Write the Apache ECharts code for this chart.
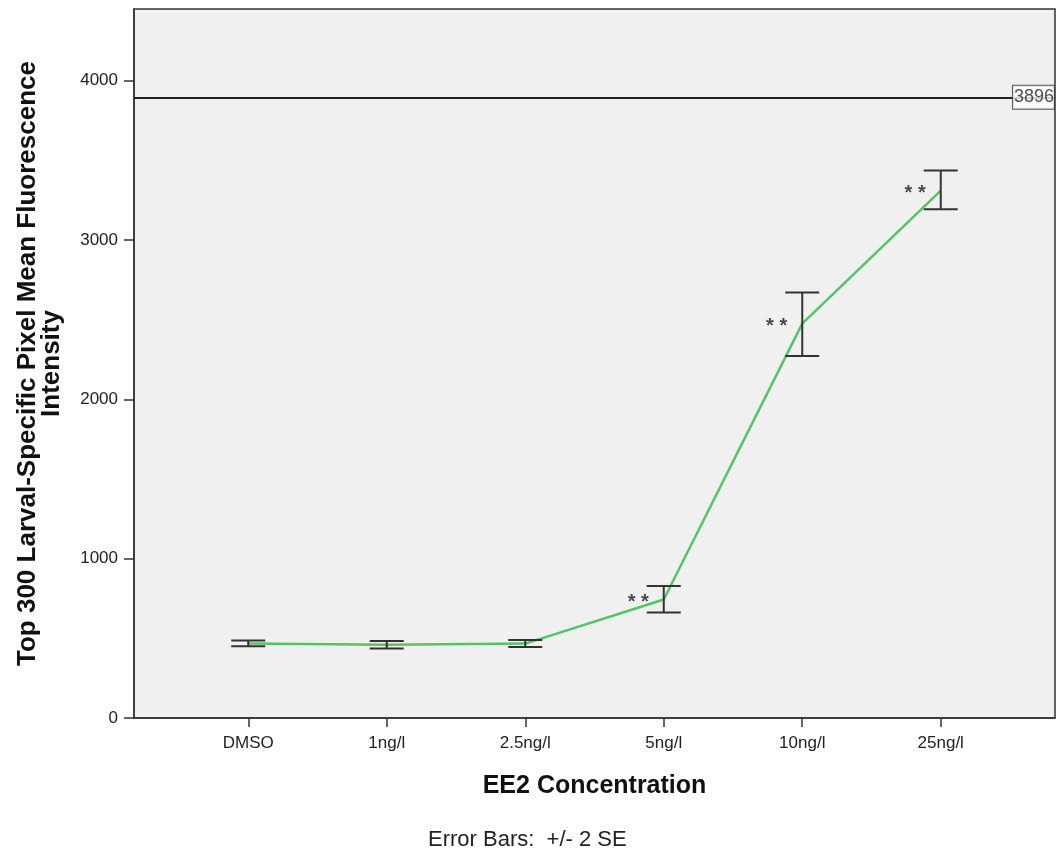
<!DOCTYPE html>
<html>
<head>
<meta charset="utf-8">
<script src="https://cdn.jsdelivr.net/npm/echarts@6/dist/echarts.min.js"></script>
<style>
  html, body { margin: 0; padding: 0; background: #ffffff; }
  #chart { width: 1058px; height: 850px; }
</style>
</head>
<body>
<div id="chart"></div>
<script>
// EE2 concentration groups and measured mean fluorescence (+/- 2 SE)
const categories = ['DMSO', '1ng/l', '2.5ng/l', '5ng/l', '10ng/l', '25ng/l'];
const means      = [468, 460, 467, 744, 2475, 3310];
const errLow     = [450, 436, 445, 662, 2272, 3193];
const errHigh    = [486, 484, 489, 828, 2670, 3436];
const significant = [false, false, false, true, true, true];
const refValue = 3896;
const yTicks = [0, 1000, 2000, 3000, 4000];

const FONT = 'Arial, "Liberation Sans", sans-serif';
const idx = categories.map((_, i) => i);
const xMin = -0.825, xMax = categories.length - 1 + 0.825;

const lineData = means.map((m, i) => [i, m]);
const errData = means.map((m, i) => [i, errLow[i], errHigh[i]]);
const starData = means.map((m, i) => significant[i] ? [i, m] : null).filter(Boolean);

const chart = echarts.init(document.getElementById('chart'), null, { renderer: 'canvas' });

chart.setOption({
  animation: false,
  backgroundColor: '#ffffff',
  grid: {
    left: 134, right: 3, top: 9, bottom: 132,
    show: true, backgroundColor: '#f0f0f0', borderColor: '#333333', borderWidth: 1.5
  },
  xAxis: {
    type: 'value', min: xMin, max: xMax,
    name: 'EE2 Concentration', nameLocation: 'middle', nameGap: 56,
    nameTextStyle: { fontFamily: FONT, fontSize: 25, fontWeight: 'bold', color: '#111' },
    axisLine: { show: true, onZero: false, lineStyle: { color: '#333333', width: 1.5 } },
    axisTick: { show: true, customValues: idx, length: 9, lineStyle: { color: '#333333', width: 1.5 } },
    axisLabel: {
      customValues: idx, margin: 17,
      formatter: v => categories[Math.round(v)],
      fontFamily: FONT, fontSize: 17, color: '#222'
    },
    splitLine: { show: false }
  },
  yAxis: {
    type: 'value', min: 0, max: 4450,
    name: 'Top 300 Larval-Specific Pixel Mean Fluorescence\nIntensity',
    nameLocation: 'middle', nameGap: 70, nameRotate: 90,
    nameTextStyle: { fontFamily: FONT, fontSize: 26, fontWeight: 'bold', color: '#111', lineHeight: 24, align: 'center' },
    axisLine: { show: true, onZero: false, lineStyle: { color: '#333333', width: 1.5 } },
    axisTick: { show: true, customValues: yTicks, length: 10, lineStyle: { color: '#333333', width: 1.5 } },
    axisLabel: {
      customValues: yTicks, margin: 16,
      formatter: v => String(v),
      fontFamily: FONT, fontSize: 17, color: '#222'
    },
    splitLine: { show: false }
  },
  series: [
    {
      type: 'line',
      data: lineData,
      symbol: 'none',
      z: 3,
      lineStyle: { color: '#55c463', width: 2.5 },
      markLine: {
        silent: true, symbol: 'none',
        lineStyle: { color: '#222', width: 2, type: 'solid' },
        label: { show: false },
        data: [{ yAxis: refValue }]
      }
    },
    {
      type: 'custom',
      data: errData,
      z: 4,
      renderItem: function (params, api) {
        const x = api.value(0);
        const lo = api.coord([x, api.value(1)]);
        const hi = api.coord([x, api.value(2)]);
        const half = 17;
        const style = { stroke: '#333', lineWidth: 2 };
        return {
          type: 'group',
          children: [
            { type: 'line', shape: { x1: lo[0], y1: lo[1], x2: hi[0], y2: hi[1] }, style },
            { type: 'line', shape: { x1: lo[0] - half, y1: lo[1], x2: lo[0] + half, y2: lo[1] }, style },
            { type: 'line', shape: { x1: hi[0] - half, y1: hi[1], x2: hi[0] + half, y2: hi[1] }, style }
          ]
        };
      }
    },
    {
      // significance markers beside the group means
      type: 'scatter',
      data: starData,
      symbol: 'circle',
      symbolSize: 2,
      itemStyle: { color: 'transparent' },
      z: 5,
      label: {
        show: true, position: 'left', distance: 14,
        formatter: '* *', offset: [0, 3],
        fontFamily: FONT, fontSize: 20, fontWeight: 'bold', color: '#1a1a2a'
      }
    },
    {
      // boxed value label of the reference line at the right edge
      type: 'scatter',
      data: [[xMax, refValue]],
      symbol: 'circle',
      symbolSize: 2,
      itemStyle: { color: 'transparent' },
      z: 6,
      label: {
        show: true, position: 'left', distance: 0,
        formatter: String(refValue),
        fontFamily: FONT, fontSize: 18, color: '#222',
        backgroundColor: '#ffffff', borderColor: '#333', borderWidth: 1,
        padding: [3, 0, 2, 1]
      }
    }
  ],
  graphic: [
    {
      type: 'text', left: 428, top: 829,
      style: { text: 'Error Bars:  +/- 2 SE', fontFamily: FONT, fontSize: 22, fill: '#222' }
    }
  ]
});
</script>
</body>
</html>
